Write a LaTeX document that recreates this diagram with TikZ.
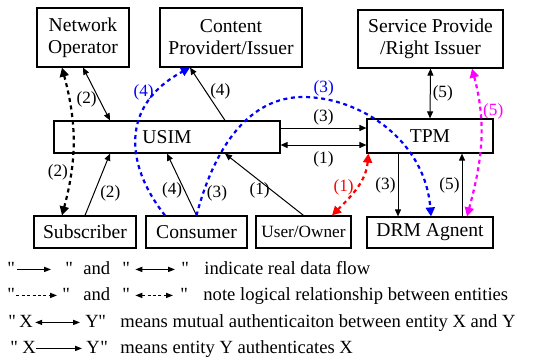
\documentclass[tikz,border=0pt]{standalone}
\usepackage{fontspec}
\setmainfont{Liberation Serif}[Ligatures=TeXOff]
\usetikzlibrary{arrows.meta, % For the filled arrow tips
                positioning, % For easy node-relative placements
               }
\definecolor{mag}{RGB}{255,0,255}
\tikzset{
  entity/.style = {rectangle, draw=black, line width=0.6pt, fill=white, align=center,
                   inner sep=0pt, font=\fontsize{9.8}{11}\selectfont},
  lab/.style    = {inner sep=1pt, font=\fontsize{8.6}{10}\selectfont},
  flow/.style   = {line width=0.5pt, -{Triangle[length=3.5pt,width=3pt]}},
  bflow/.style  = {line width=0.5pt, {Triangle[length=3.5pt,width=3pt]}-{Triangle[length=3.5pt,width=3pt]}},
  logic/.style  = {line width=1.1pt, dash pattern=on 2pt off 1.8pt, -{Triangle[length=4.5pt,width=4.5pt]}},
  blogic/.style = {line width=1.1pt, dash pattern=on 2pt off 1.8pt,
                   {Triangle[length=4.5pt,width=4.5pt]}-{Triangle[length=4.5pt,width=4.5pt]}},
  leg/.style    = {inner sep=0pt, anchor=base west, font=\fontsize{9.3}{11}\selectfont},
  legflow/.style  = {line width=0.5pt, -{Triangle[length=3.5pt,width=2.6pt]}},
  legbflow/.style = {line width=0.5pt, {Triangle[length=3.5pt,width=2.6pt]}-{Triangle[length=3.5pt,width=2.6pt]}},
  leglogic/.style = {line width=0.5pt, dash pattern=on 1.5pt off 1.2pt, -{Triangle[length=3.5pt,width=2.6pt]}},
  legblogic/.style = {line width=0.5pt, dash pattern=on 1.5pt off 1.2pt,
                      {Triangle[length=3.5pt,width=2.6pt]}-{Triangle[length=3.5pt,width=2.6pt]}},
}

\begin{document}
\begin{tikzpicture}[x=0.5pt,y=-0.5pt]
  \useasboundingbox (0,0) rectangle (540,360);

  \node (netop) [entity, minimum width=46pt, minimum height=29.5pt] at (83,37.5) {Network\\Operator};
  \node (cprov) [entity, minimum width=71pt, minimum height=29.5pt] at (231,37.5) {Content\\Providert/Issuer};
  \node (sprov) [entity, minimum width=72.5pt, minimum height=29pt] at (430.5,39) {Service Provide\\/Right Issuer};
  \node (usim) [entity, minimum width=113pt, minimum height=16pt] at (167,137) {USIM};
  \node (tpm) [entity, minimum width=63pt, minimum height=17pt] at (430,136) {TPM};
  \node (subsc) [entity, minimum width=51pt, minimum height=16pt] at (85,232) {Subscriber};
  \node (consm) [entity, minimum width=50.5pt, minimum height=16pt] at (196.5,232) {Consumer};
  \node (owner) [entity, minimum width=47.5pt, minimum height=16pt, font=\fontsize{8.6}{10}\selectfont] at (303.5,232) {User/Owner};
  \node (drm) [entity, minimum width=63pt, minimum height=15.5pt] at (430,232.5) {DRM Agnent};

  % real data flow
  \draw [bflow] (netop.south) -- ([xshift=-28.5pt]usim.north) node[lab, left, pos=.6] {(2)};
  \draw [flow] (subsc.north) -- ([xshift=-28.5pt]usim.south) node[lab, right, pos=.35, xshift=2pt] {(2)};
  \draw [flow] (consm.north) -- (usim.south) node[lab, left, pos=.4] {(4)};
  \draw [flow] ([xshift=29pt]usim.north) -- ([xshift=-20.5pt]cprov.south) node[lab, right, pos=.55, xshift=1pt] {(4)};
  \draw [flow] (owner.north) -- ([xshift=29pt]usim.south) node[lab, left, pos=.4] {(1)};
  \draw [flow] ([yshift=4.5pt]usim.east) -- ([yshift=4.5pt]usim.east -| tpm.west) node[lab, above, midway] {(3)};
  \draw [bflow] ([yshift=-4pt]usim.east) -- ([yshift=-4pt]usim.east -| tpm.west) node[lab, below=2pt, midway] {(1)};
  \draw [flow] ([xshift=-16pt]tpm.south) -- ([xshift=-16pt]drm.north) node[lab, left, midway] {(3)};
  \draw [flow] ([xshift=16pt]drm.north) -- ([xshift=16pt]tpm.south) node[lab, left, midway] {(5)};
  \draw [bflow] (sprov.south) -- (tpm.north) node[lab, right, midway] {(5)};

  % logical relationship
  \draw [blogic] ([xshift=-10.5pt]netop.south) to[out=-75, in=75] node[lab, left, pos=.72] {(2)} ([xshift=-11.5pt]subsc.north);
  \draw [logic, blue] ([xshift=-15.75pt]consm.north) .. controls (125,165) and (120,105) .. ([xshift=-20.5pt]cprov.south)
        node[lab, left, pos=.8] {(4)};
  \draw [logic, blue] (consm.north) .. controls (215,145) and (250,97) .. (303,97)
        node[lab, right, pos=.12, text=black, yshift=-1pt] {(3)}
        .. controls (360,97) and (425,140) .. ([xshift=0.5pt]drm.north)
        node[lab, above, pos=.12] {(3)};
  \draw [blogic, red] ([xshift=1pt]tpm.south west) to[out=-95, in=45] node[lab, left, pos=.5] {(1)} ([xshift=14.25pt]owner.north);
  \draw [blogic, mag] ([xshift=18.5pt]drm.north) to[out=75, in=-75] node[lab, right, pos=.72] {(5)} ([xshift=20.75pt]sprov.south);

  % legend
  \node [leg] (q1a) at (7,274) {"};
  \node [leg] (q1b) at (65,274) {"};
  \node [leg] (and1) at (83,274) {and};
  \node [leg] (q1c) at (122,274) {"};
  \node [leg] (q1d) at (181,274) {"};
  \node [leg] (txt1) at (204,274) {indicate real data flow};
  \draw [legflow] ([xshift=1pt]q1a.east |- and1.mid) -- ([xshift=-7pt]q1b.west |- and1.mid);
  \draw [legbflow] ([xshift=2.5pt]q1c.east |- and1.mid) -- ([xshift=-3pt]q1d.west |- and1.mid);

  \node [leg] (q2a) at (7,300) {"};
  \node [leg] (q2b) at (62,300) {"};
  \node [leg] (and2) at (83,300) {and};
  \node [leg] (q2c) at (122,300) {"};
  \node [leg] (q2d) at (180,300) {"};
  \node [leg] (txt2) at (203,300) {note logical relationship between entities};
  \draw [leglogic] ([xshift=0.5pt]q2a.east |- and2.mid) -- ([xshift=-2.5pt]q2b.west |- and2.mid);
  \draw [legblogic] ([xshift=2.5pt]q2c.east |- and2.mid) -- ([xshift=-3.5pt]q2d.west |- and2.mid);

  \node [leg] (q3a) at (8,327) {"};
  \node [leg] (x3) at (19,327) {X};
  \node [leg] (y3) at (85,327) {Y};
  \node [leg] (q3b) at (98,327) {"};
  \node [leg] (txt3) at (120,327) {means mutual authenticaiton between entity X and Y};
  \draw [legbflow] ([xshift=1pt]x3.east |- txt3.mid) -- ([xshift=-2.5pt]y3.west |- txt3.mid);

  \node [leg] (q4a) at (10,353) {"};
  \node [leg] (x4) at (22,353) {X};
  \node [leg] (y4) at (86,353) {Y};
  \node [leg] (q4b) at (100,353) {"};
  \node [leg] (txt4) at (120,353) {means entity Y authenticates X};
  \draw [legflow] ([xshift=0pt]x4.east |- txt4.mid) -- ([xshift=-2pt]y4.west |- txt4.mid);
\end{tikzpicture}
\end{document}
